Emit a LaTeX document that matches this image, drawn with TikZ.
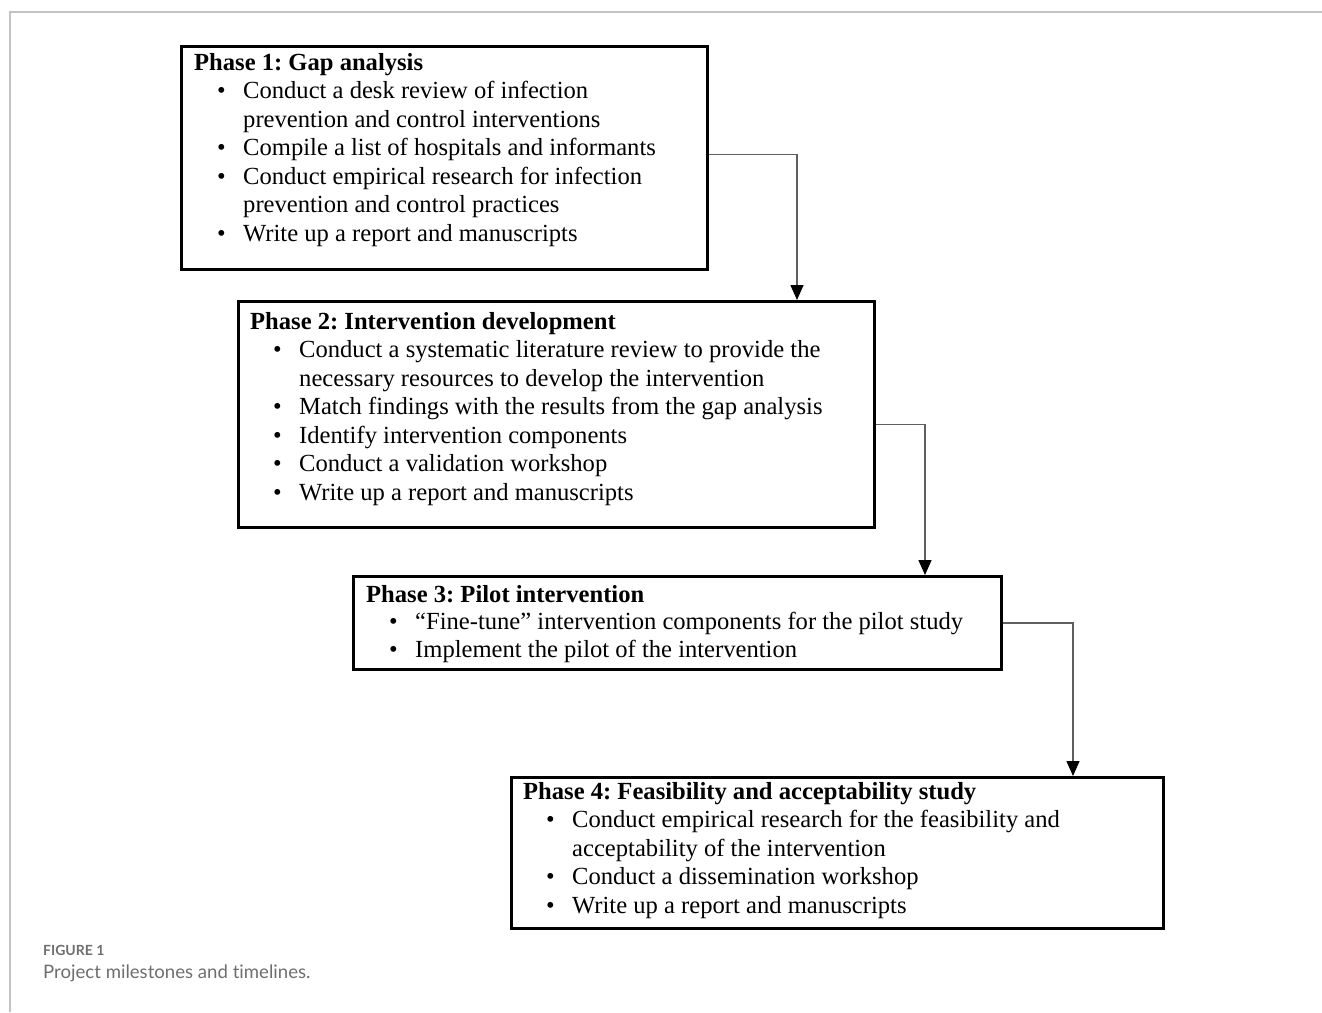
\documentclass[tikz,border=0pt]{standalone}
\usepackage{fontspec}
\setmainfont{Liberation Serif}
\newfontfamily\capfont[Ligatures=NoCommon]{Lato}
\usepackage{xcolor}
\usetikzlibrary{arrows.meta, positioning}
\definecolor{framegray}{RGB}{195,195,195}
\definecolor{linkgray}{RGB}{95,95,95}
\definecolor{capgray}{RGB}{110,110,110}
\frenchspacing

% list lines inside the phase boxes
\newcommand{\phead}[1]{\textbf{#1}}
\newcommand{\pitem}[1]{\hspace*{23pt}\makebox[26pt][l]{\textbullet}#1}
\newcommand{\pcont}[1]{\hspace*{49pt}#1}

\tikzset{
  phasebox/.style={draw=black, line width=2.6pt, anchor=north west, inner sep=0pt},
  phasetext/.style={anchor=north west, inner sep=0pt, align=left, font=\fontsize{24.6}{28.5}\selectfont},
  link/.style={draw=linkgray, line width=1.4pt, -{Triangle[length=15pt,width=13pt,color=black]}},
  captext/.style={anchor=base west, inner sep=0pt, text=capgray},
}

\begin{document}
\begin{tikzpicture}[x=1pt,y=-1pt]
\useasboundingbox (0,0) rectangle (1322,1012);

% Page frame
\draw[framegray, line width=2pt] (1322,12) -- (10,12) -- (10,1012);

% Phase boxes
\node[phasebox, minimum width=526pt, minimum height=223pt] (p1) at (180,45) {};
\node[phasebox, minimum width=636pt, minimum height=226pt] (p2) at (237,300) {};
\node[phasebox, minimum width=648pt, minimum height=93pt] (p3) at (352,575) {};
\node[phasebox, minimum width=652pt, minimum height=151pt] (p4) at (510,776) {};

% Box contents
\node[phasetext] (p1t) at ([xshift=14pt,yshift=-8pt]p1.north west) {%
  \phead{Phase 1: Gap analysis}\\
  \pitem{Conduct a desk review of infection}\\
  \pcont{prevention and control interventions}\\
  \pitem{Compile a list of hospitals and informants}\\
  \pitem{Conduct empirical research for infection}\\
  \pcont{prevention and control practices}\\
  \pitem{Write up a report and manuscripts}};
\node[phasetext] (p2t) at ([xshift=13pt,yshift=-12pt]p2.north west) {%
  \phead{Phase 2: Intervention development}\\
  \pitem{Conduct a systematic literature review to provide the}\\
  \pcont{necessary resources to develop the intervention}\\
  \pitem{Match findings with the results from the gap analysis}\\
  \pitem{Identify intervention components}\\
  \pitem{Conduct a validation workshop}\\
  \pitem{Write up a report and manuscripts}};
\node[phasetext] (p3t) at ([xshift=14pt,yshift=-10pt]p3.north west) {%
  \phead{Phase 3: Pilot intervention}\\[-1.5pt]
  \pitem{``Fine-tune'' intervention components for the pilot study}\\
  \pitem{Implement the pilot of the intervention}};
\node[phasetext] (p4t) at ([xshift=13pt,yshift=-6pt]p4.north west) {%
  \phead{Phase 4: Feasibility and acceptability study}\\
  \pitem{Conduct empirical research for the feasibility and}\\
  \pcont{acceptability of the intervention}\\
  \pitem{Conduct a dissemination workshop}\\
  \pitem{Write up a report and manuscripts}};

% Connectors
\draw[link] ([yshift=3.5pt]p1.east) -| ([xshift=560pt]p2.north west);
\draw[link] ([yshift=-10pt]p2.east) -| ([xshift=573pt]p3.north west);
\draw[link] (p3.east) -| ([xshift=563pt]p4.north west);

% Caption
\node[captext, font=\capfont\bfseries\fontsize{14}{16}\selectfont] (fig) at (43,955) {FIGURE 1};
\node[captext, font=\capfont\fontsize{18.6}{22}\selectfont] (cap) at (43,978) {Project milestones and timelines.};
\end{tikzpicture}
\end{document}
